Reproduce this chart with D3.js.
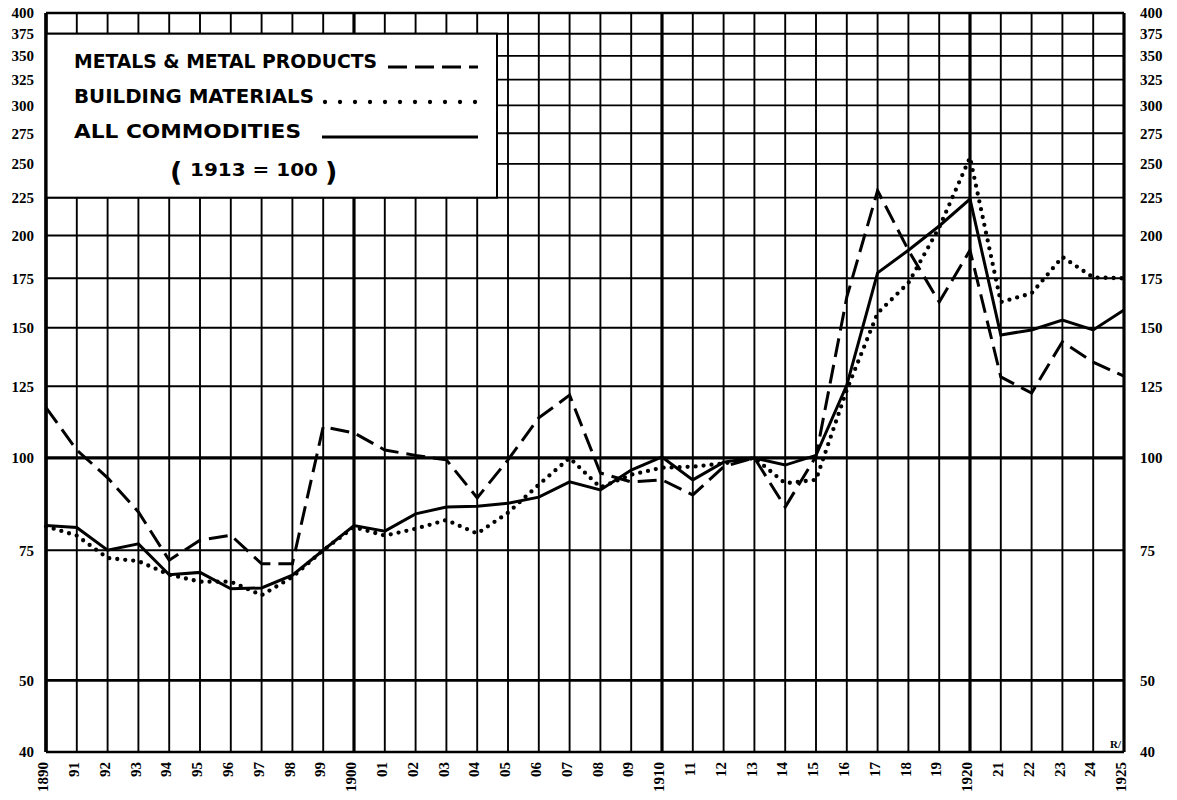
<!DOCTYPE html>
<html lang="en">
    <head>
        <meta charset="utf-8">
        <title>wholesale prices 1890-1925</title>
        <script type="text/javascript" src="https://d3js.org/d3.v7.min.js"></script>
        <style type="text/css">
            body { margin: 0; background: white; }
        </style>
    </head>
    <body>
        <script type="text/javascript">

            //years along the bottom
            var years = [1890, 1891, 1892, 1893, 1894, 1895, 1896, 1897, 1898, 1899,
                         1900, 1901, 1902, 1903, 1904, 1905, 1906, 1907, 1908, 1909,
                         1910, 1911, 1912, 1913, 1914, 1915, 1916, 1917, 1918, 1919,
                         1920, 1921, 1922, 1923, 1924, 1925];

            var yearLabels = ["1890", "91", "92", "93", "94", "95", "96", "97", "98", "99",
                              "1900", "01", "02", "03", "04", "05", "06", "07", "08", "09",
                              "1910", "11", "12", "13", "14", "15", "16", "17", "18", "19",
                              "1920", "21", "22", "23", "24", "1925"];

            //index numbers, 1913 = 100
            var metals = [117, 102.5, 94, 84.5, 72.7, 77.4, 78.6, 71.9, 71.9, 110.2,
                          108.1, 102.5, 100.8, 99.4, 88.3, 99.4, 113.3, 121.6, 95.4, 92.8,
                          93.4, 89.1, 97.3, 100, 85.8, 100.5, 165, 230, 191, 162.5,
                          191, 128.7, 122.4, 143.6, 134.8, 129];

            var building = [80.8, 78.5, 73.2, 72.5, 69.5, 68, 68, 65.2, 69, 75,
                            80.6, 78.5, 80.2, 82.4, 79, 84.3, 92, 100, 91.2, 94.9,
                            97, 97.3, 98.3, 100, 92.4, 93.4, 123.6, 157, 172.5, 205,
                            255, 162.5, 167, 187, 175.5, 175];

            var allCommodities = [81, 80.5, 75, 76.5, 69.5, 70, 66.5, 66.7, 69.4, 75,
                                  81, 79.6, 84, 85.8, 86, 86.8, 88.5, 92.8, 90.5, 96.3,
                                  100.3, 93.4, 98.7, 100, 97.8, 100.8, 125.5, 178, 191, 206,
                                  224, 146.7, 149, 153.7, 149, 158.5];

            var yTicks = [40, 50, 75, 100, 125, 150, 175, 200, 225, 250, 275, 300, 325, 350, 375, 400];

            //Width and height
            var w = 1177;
            var h = 800;
            var plotLeft = 46, plotRight = 1124, plotTop = 13, plotBottom = 752;

            var xScale = d3.scaleLinear()
                .domain([1890, 1925])
                .range([plotLeft, plotRight]);

            var yScale = d3.scaleLog()
                .domain([40, 400])
                .range([plotBottom, plotTop]);

            var svg = d3.select("body")
                  .append("svg")
                  .attr("width", w)
                  .attr("height", h);

            svg.append("rect")
              .attr("width", "100%")
              .attr("height", "100%")
              .attr("fill", "white");

            //horizontal grid
            svg.selectAll("line.hgrid")
              .data(yTicks)
              .enter()
              .append("line")
              .attr("class", "hgrid")
              .attr("x1", plotLeft)
              .attr("x2", plotRight)
              .attr("y1", function(d) { return yScale(d); })
              .attr("y2", function(d) { return yScale(d); })
              .attr("stroke", "black")
              .attr("stroke-width", function(d) {
                if(d == 100){
                  return 3.2;
                }else if(d == 50 || d == 40 || d == 400){
                  return 2.6;
                }
                return 1.9;
              });

            //vertical grid, one per year
            svg.selectAll("line.vgrid")
              .data(years)
              .enter()
              .append("line")
              .attr("class", "vgrid")
              .attr("x1", function(d) { return xScale(d); })
              .attr("x2", function(d) { return xScale(d); })
              .attr("y1", plotTop)
              .attr("y2", plotBottom)
              .attr("stroke", "black")
              .attr("stroke-width", function(d) {
                if(d % 10 == 0 || d == 1925){
                  return 3.2;
                }
                return 1.9;
              });

            //legend box sits over the grid
            var boxRight = 497;
            svg.append("rect")
              .attr("x", plotLeft)
              .attr("y", yScale(375))
              .attr("width", boxRight - plotLeft)
              .attr("height", yScale(225) - yScale(375))
              .attr("fill", "white")
              .attr("stroke", "black")
              .attr("stroke-width", 2);

            svg.append("line")
              .attr("x1", plotLeft).attr("x2", plotLeft)
              .attr("y1", plotTop).attr("y2", plotBottom)
              .attr("stroke", "black")
              .attr("stroke-width", 3.2);

            var series = [
              {values: metals, dash: "19 8", width: 3, cap: "butt"},
              {values: building, dash: "0 8", width: 4.3, cap: "round"},
              {values: allCommodities, dash: null, width: 3, cap: "butt"}
            ];

            var line = d3.line()
              .x(function(d, i) { return xScale(years[i]); })
              .y(function(d) { return yScale(d); });

            svg.selectAll("path.series")
              .data(series)
              .enter()
              .append("path")
              .attr("class", "series")
              .attr("d", function(d) { return line(d.values); })
              .attr("fill", "none")
              .attr("stroke", "black")
              .attr("stroke-width", function(d) { return d.width; })
              .attr("stroke-dasharray", function(d) { return d.dash; })
              .attr("stroke-linecap", function(d) { return d.cap; })
              .attr("stroke-linejoin", "miter");

            //value labels both sides
            svg.selectAll("text.yleft")
              .data(yTicks)
              .enter()
              .append("text")
              .attr("class", "yleft")
              .text(function(d) { return d; })
              .attr("x", 34)
              .attr("y", function(d) { return yScale(d); })
              .attr("dy", "0.35em")
              .attr("text-anchor", "end")
              .attr("font-family", "Liberation Serif")
              .attr("font-weight", "bold")
              .attr("font-size", "15px");

            svg.selectAll("text.yright")
              .data(yTicks)
              .enter()
              .append("text")
              .attr("class", "yright")
              .text(function(d) { return d; })
              .attr("x", 1140)
              .attr("y", function(d) { return yScale(d); })
              .attr("dy", "0.35em")
              .attr("text-anchor", "start")
              .attr("font-family", "Liberation Serif")
              .attr("font-weight", "bold")
              .attr("font-size", "15px");

            //year labels, turned on their side
            svg.selectAll("text.year")
              .data(years)
              .enter()
              .append("text")
              .attr("class", "year")
              .text(function(d, i) { return yearLabels[i]; })
              .attr("transform", function(d) {
                return "translate(" + (xScale(d) - 3) + "," + (plotBottom + 10) + ") rotate(-90)";
              })
              .attr("dy", "0.35em")
              .attr("text-anchor", "end")
              .attr("font-family", "Liberation Serif")
              .attr("font-weight", "bold")
              .attr("font-size", "15px");

            //legend
            var legendNames = ["METALS & METAL PRODUCTS", "BUILDING MATERIALS", "ALL COMMODITIES"];
            var legendLen = [303, 240, 227];
            var legendY = [68, 103, 138];
            var sampleStart = [388, 325, 322];

            svg.selectAll("text.legend")
              .data(legendNames)
              .enter()
              .append("text")
              .attr("class", "legend")
              .text(function(d) { return d; })
              .attr("x", 74)
              .attr("y", function(d, i) { return legendY[i]; })
              .attr("textLength", function(d, i) { return legendLen[i]; })
              .attr("lengthAdjust", "spacingAndGlyphs")
              .attr("font-family", "DejaVu Sans")
              .attr("font-weight", "bold")
              .attr("font-size", "19px");

            svg.selectAll("line.sample")
              .data(series)
              .enter()
              .append("line")
              .attr("class", "sample")
              .attr("x1", function(d, i) { return sampleStart[i]; })
              .attr("x2", 478)
              .attr("y1", function(d, i) { return legendY[i] - 1; })
              .attr("y2", function(d, i) { return legendY[i] - 1; })
              .attr("stroke", "black")
              .attr("stroke-width", function(d) { return d.width; })
              .attr("stroke-dasharray", function(d, i) { return i == 1 ? "0 15" : d.dash; })
              .attr("stroke-linecap", function(d) { return d.cap; });

            svg.append("text")
              .text("(")
              .attr("x", 170)
              .attr("y", 181)
              .attr("font-family", "DejaVu Sans")
              .attr("font-weight", "bold")
              .attr("font-size", "27px");

            svg.append("text")
              .text("1913 = 100")
              .attr("x", 190)
              .attr("y", 176)
              .attr("textLength", 128)
              .attr("lengthAdjust", "spacingAndGlyphs")
              .attr("font-family", "DejaVu Sans")
              .attr("font-weight", "bold")
              .attr("font-size", "18px");

            svg.append("text")
              .text(")")
              .attr("x", 325)
              .attr("y", 181)
              .attr("font-family", "DejaVu Sans")
              .attr("font-weight", "bold")
              .attr("font-size", "27px");

            //plate mark
            svg.append("text")
              .text("R/")
              .attr("x", 1110)
              .attr("y", 748)
              .attr("font-family", "Liberation Serif")
              .attr("font-weight", "bold")
              .attr("font-size", "11px");

        </script>
    </body>
</html>
